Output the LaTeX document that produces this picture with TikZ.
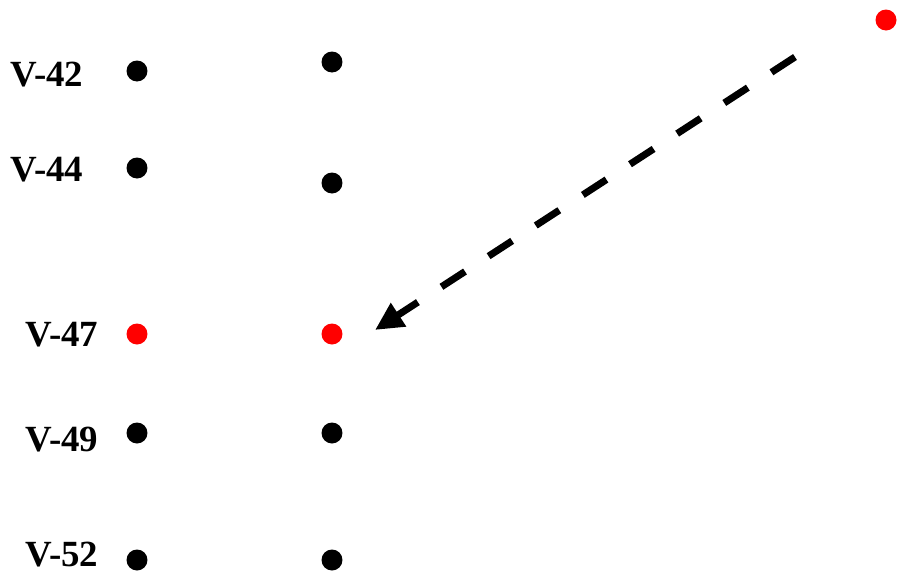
\documentclass[tikz,border=0pt]{standalone}
\usepackage{fontspec}
\setmainfont{Liberation Serif}
\usetikzlibrary{arrows.meta, positioning}
\definecolor{hitred}{RGB}{255, 0, 0}
\tikzset{
  vdot/.style={circle, fill=black, inner sep=0pt, minimum size=0.42cm},
  hitdot/.style={vdot, fill=hitred},
  vlabel/.style={anchor=base west, inner sep=0pt, font=\bfseries\fontsize{21}{24}\selectfont}
}

\begin{document}
\begin{tikzpicture}[x=0.02cm, y=-0.02cm]
  \useasboundingbox (0,0) rectangle (897,572);
  % well labels
  \node[vlabel] (v42) at (10,86.5) {V-42};
  \node[vlabel] (v44) at (10,181.5) {V-44};
  \node[vlabel] (v47) at (25,346.5) {V-47};
  \node[vlabel] (v49) at (25,451) {V-49};
  \node[vlabel] (v52) at (25,566.5) {V-52};
  % left column
  \node[vdot] (v42l) at (137,71) {};
  \node[vdot] (v44l) at (137,168) {};
  \node[hitdot] (v47l) at (137,334) {};
  \node[vdot] (v49l) at (137,433) {};
  \node[vdot] (v52l) at (137,560) {};
  % right column
  \node[vdot] (v42r) at (332,62) {};
  \node[vdot] (v44r) at (332,183) {};
  \node[hitdot] (v47r) at (332,334) {};
  \node[vdot] (v49r) at (332,433) {};
  \node[vdot] (v52r) at (332,560) {};
  % source point
  \node[hitdot] (src) at (886,20) {};
  \coordinate (tail) at (795,57);
  \coordinate (head) at (375,330);
  \draw[line width=4pt, dash pattern=on 16pt off 16pt,
        -{Triangle[length=16pt, width=15pt]}] (tail) -- (head);
\end{tikzpicture}
\end{document}
